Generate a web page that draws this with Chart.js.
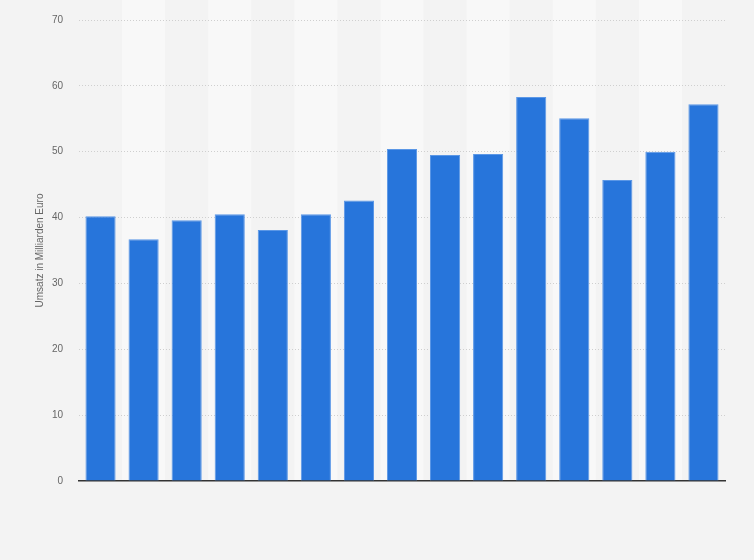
<!DOCTYPE html>
<html>
<head>
<meta charset="utf-8">
<script src="https://cdn.jsdelivr.net/npm/chart.js@4"></script>
<style>
    html, body { margin: 0; padding: 0; background: #f3f3f3; }
    #wrap { width: 754px; height: 560px; position: relative; }
</style>
</head>
<body>
<div id="wrap"><canvas id="plot-umsatz"></canvas></div>
<script>
// categories have no visible labels in the reference, so they stay blank
const categories = ["", "", "", "", "", "", "", "", "", "", "", "", "", "", ""];
const umsatz = [40.2, 36.7, 39.6, 40.5, 38.1, 40.5, 42.6, 50.4, 49.5, 49.65, 58.3, 55.1, 45.7, 50.0, 57.2];
const yTicks = [0, 10, 20, 30, 40, 50, 60, 70];
const yTitle = "Umsatz in Milliarden Euro";

//light stripes behind every second category
const stripePlugin = {
    id: 'stripes',
    beforeDraw(chart) {
        let ctx = chart.ctx;
        let xScale = chart.scales.x;
        let area = chart.chartArea;
        let half = (area.right - area.left) / categories.length / 2;
        ctx.save();
        ctx.fillStyle = '#f8f8f8';
        categories.forEach((c, i) => {
            if (i % 2 === 1) {
                let cx = xScale.getPixelForValue(i);
                ctx.fillRect(cx - half, 0, half * 2, area.bottom);
            }
        });
        ctx.restore();
    }
};

const config = {
    type: 'bar',
    data: {
        labels: categories,
        datasets: [{
            label: yTitle,
            data: umsatz,
            backgroundColor: '#2775db',
            borderColor: '#5b97e6',
            borderWidth: { top: 1, left: 1, right: 1, bottom: 0 },
            categoryPercentage: 1.0,
            barPercentage: 0.7,
        }]
    },
    options: {
        responsive: false,
        animation: false,
        layout: { padding: { left: 34, right: 29, top: 20, bottom: 0 } },
        plugins: {
            legend: { display: false },
            tooltip: { enabled: false },
        },
        scales: {
            x: {
                grid: { display: false, drawTicks: false },
                border: { display: true, color: '#333333', width: 1.5 },
                ticks: { display: false },
                afterFit(scale) { scale.height = 79; },
            },
            y: {
                min: 0,
                max: 70,
                afterBuildTicks(scale) {
                    scale.ticks = yTicks.map(v => ({ value: v }));
                },
                grid: {
                    color: (c) => c.tick && c.tick.value === 0 ? 'rgba(0,0,0,0)' : '#cfcfcf',
                    lineWidth: 1,
                    drawTicks: false,
                },
                border: { display: false, dash: [1, 2] },
                ticks: {
                    color: '#666666',
                    padding: 16,
                    font: { family: 'Liberation Sans, Arial, sans-serif', size: 10 },
                },
                title: {
                    display: true,
                    text: yTitle,
                    color: '#666666',
                    padding: { top: 0, bottom: 0 },
                    font: { family: 'Liberation Sans, Arial, sans-serif', size: 10 },
                },
                afterFit(scale) {
                    scale.width = 45;
                    // let the layout padding alone decide where the plot starts
                    scale.paddingTop = 0;
                    scale.paddingBottom = 0;
                },
            }
        }
    },
    plugins: [stripePlugin]
};

let canvas = document.getElementById('plot-umsatz');
canvas.width = 754;
canvas.height = 560;
new Chart(canvas.getContext('2d'), config);
</script>
</body>
</html>
